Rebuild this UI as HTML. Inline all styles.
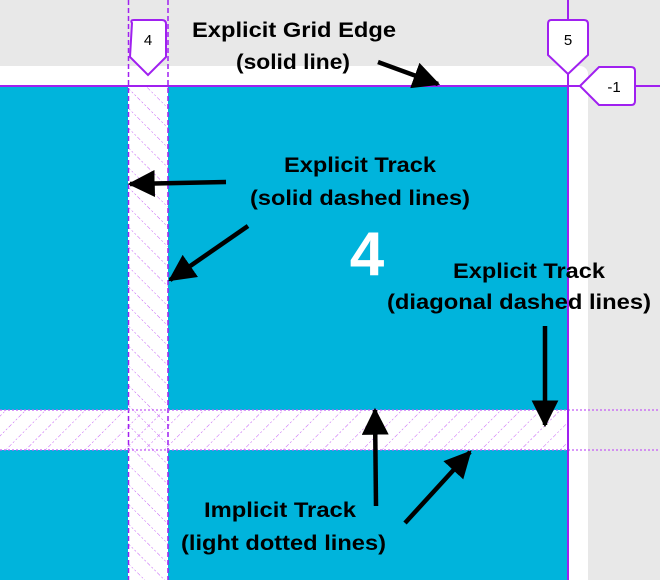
<!DOCTYPE html>
<html><head><meta charset="utf-8"><style>
html,body{margin:0;padding:0;background:#e8e8e8;}
svg{display:block;}
text{font-family:"Liberation Sans",Arial,sans-serif;font-weight:bold;}
</style></head><body>
<svg width="660" height="580" viewBox="0 0 660 580">
<defs>
<pattern id="hv" width="14" height="14" patternUnits="userSpaceOnUse" patternTransform="rotate(-45)">
<line x1="0" y1="0" x2="0" y2="14" stroke="#c45cf5" stroke-width="1" stroke-dasharray="2,2"/></pattern>
<pattern id="hh" width="14" height="14" patternUnits="userSpaceOnUse" patternTransform="rotate(45)">
<line x1="0" y1="0" x2="0" y2="14" stroke="#c45cf5" stroke-width="1" stroke-dasharray="2,2"/></pattern>
<marker id="ah" markerWidth="6" markerHeight="6" refX="5.5" refY="3" orient="auto" markerUnits="strokeWidth"><path d="M0,0 L6,3 L0,6 z" fill="#000"/></marker>
</defs>
<rect x="0" y="0" width="660" height="580" fill="#e8e8e8"/>
<rect x="-10" y="66" width="598" height="530" rx="8" fill="#fff"/>
<g fill="#00b4dc">
<rect x="0" y="86" width="128" height="324"/>
<rect x="168" y="86" width="400" height="324"/>
<rect x="0" y="450" width="128" height="130"/>
<rect x="168" y="450" width="400" height="130"/>
</g>
<rect x="128" y="86" width="40" height="494" fill="url(#hv)"/>
<rect x="0" y="410" width="568" height="40" fill="url(#hh)"/>
<g stroke="#a020f0" stroke-width="1.5" stroke-dasharray="5,3">
<line x1="128.5" y1="0" x2="128.5" y2="580"/><line x1="168" y1="0" x2="168" y2="580"/>
</g>
<g stroke="#c45cf5" stroke-width="1.3" stroke-dasharray="2,2">
<line x1="0" y1="410" x2="660" y2="410"/><line x1="0" y1="450" x2="660" y2="450"/>
</g>
<g stroke="#a020f0" stroke-width="2">
<line x1="568" y1="0" x2="568" y2="580"/><line x1="0" y1="86" x2="660" y2="86"/>
</g>
<g>
<path d="M132,23 Q130,20 134,20 L162,20 Q166,20 166,24 L166,57 L148,75 L130,57 Z" fill="#fff" stroke="#a020f0" stroke-width="2"/>
<text x="148" y="45" font-size="15" text-anchor="middle" style="font-weight:normal">4</text></g>
<g>
<path d="M551,20 L584,20 Q588,20 588,24 L588,55 L568,74 L548,55 L548,24 Q548,20 551,20 Z" fill="#fff" stroke="#a020f0" stroke-width="2"/>
<text x="568" y="45" font-size="15" text-anchor="middle" style="font-weight:normal">5</text></g>
<g>
<path d="M580,86 L599,67 L631,67 Q635,67 635,71 L635,101 Q635,105 631,105 L599,105 Z" fill="#fff" stroke="#a020f0" stroke-width="2"/>
<text x="614" y="92" font-size="15" text-anchor="middle" style="font-weight:normal">-1</text></g>
<text x="192" y="37" font-size="21" textLength="204" lengthAdjust="spacingAndGlyphs">Explicit Grid Edge</text>
<text x="236" y="69" font-size="21" textLength="114" lengthAdjust="spacingAndGlyphs">(solid line)</text>
<text x="284" y="172" font-size="21" textLength="152" lengthAdjust="spacingAndGlyphs">Explicit Track</text>
<text x="250" y="205" font-size="21" textLength="220" lengthAdjust="spacingAndGlyphs">(solid dashed lines)</text>
<text x="367" y="275" font-size="62" fill="#fff" text-anchor="middle">4</text>
<text x="453" y="278" font-size="21" textLength="152" lengthAdjust="spacingAndGlyphs">Explicit Track</text>
<text x="387" y="309" font-size="21" textLength="264" lengthAdjust="spacingAndGlyphs">(diagonal dashed lines)</text>
<text x="204" y="517" font-size="21" textLength="152" lengthAdjust="spacingAndGlyphs">Implicit Track</text>
<text x="181" y="550" font-size="21" textLength="205" lengthAdjust="spacingAndGlyphs">(light dotted lines)</text>
<g stroke="#000" stroke-width="4.5" fill="none" marker-end="url(#ah)">
<line x1="378" y1="62" x2="438" y2="84"/>
<line x1="226" y1="182" x2="130" y2="184"/>
<line x1="248" y1="226" x2="170" y2="280"/>
<line x1="545" y1="326" x2="545" y2="425"/>
<line x1="376" y1="506" x2="375" y2="410"/>
<line x1="405" y1="523" x2="470" y2="452"/>
</g>
</svg>
</body></html>
